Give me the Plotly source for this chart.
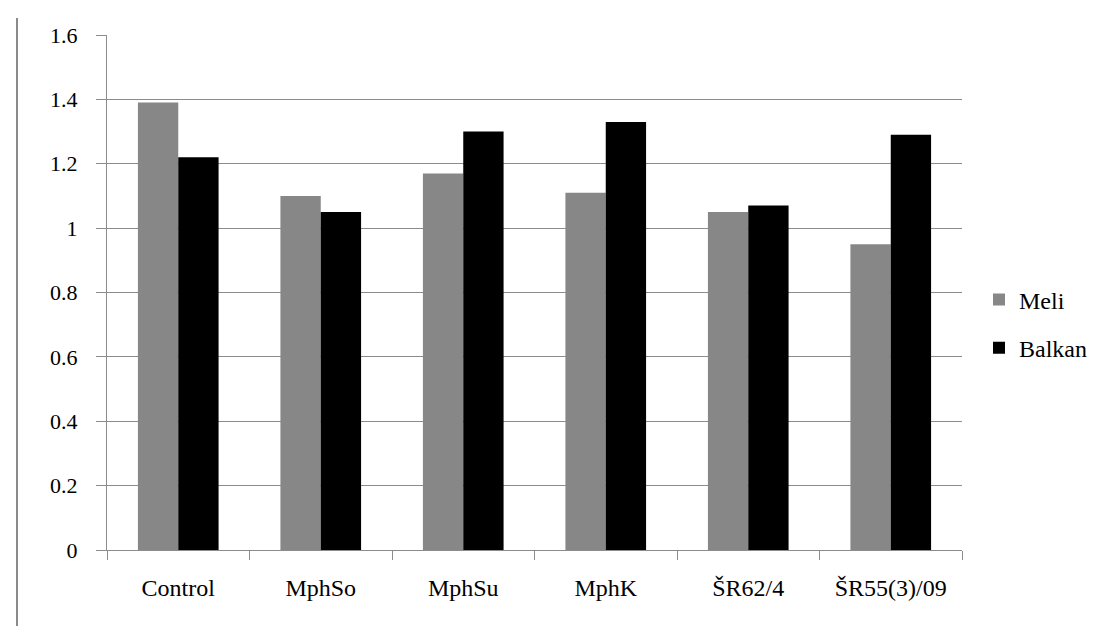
import plotly.graph_objects as go

categories = ["Control", "MphSo", "MphSu", "MphK", "ŠR62/4", "ŠR55(3)/09"]
meli = [1.39, 1.10, 1.17, 1.11, 1.05, 0.95]
balkan = [1.22, 1.05, 1.30, 1.33, 1.07, 1.29]
y_ticks = [0, 0.2, 0.4, 0.6, 0.8, 1.0, 1.2, 1.4, 1.6]
y_tick_text = ["0", "0.2", "0.4", "0.6", "0.8", "1", "1.2", "1.4", "1.6"]

W, H = 1111, 626
L, R, T, B = 99, 157, 27, 84
pw, ph = W - L - R, H - T - B

def px(x):
    return (x - L) / pw

def py(y):
    return (H - B - y) / ph

fig = go.Figure()
fig.add_trace(go.Bar(x=categories, y=meli, name="Meli", marker_color="#878787",
                     marker_line_width=0, legendgroup="a"))
fig.add_trace(go.Bar(x=categories, y=balkan, name="Balkan", marker_color="#000000",
                     marker_line_width=0, legendgroup="b"))

font = "Liberation Serif, Times New Roman, serif"
fig.update_layout(
    width=W, height=H,
    margin=dict(l=L, r=R, t=T, b=B, autoexpand=False),
    paper_bgcolor="white", plot_bgcolor="white",
    barmode="group", bargap=0.434, bargroupgap=0,
    font=dict(family=font, size=22, color="black"),
    showlegend=True,
    legend=dict(x=px(971), xanchor="left", y=py(316), yanchor="middle",
                font=dict(size=24), tracegroupgap=14, bgcolor="rgba(0,0,0,0)"),
    xaxis=dict(showgrid=False, showline=True, linecolor="#8c8c8c", linewidth=1,
               ticks="outside", tickson="boundaries", ticklen=9, tickcolor="#8c8c8c",
               tickfont=dict(size=24), ticklabelstandoff=16),
    yaxis=dict(range=[0, 1.6], tickvals=y_ticks, ticktext=y_tick_text,
               showgrid=True, gridcolor="#8c8c8c", gridwidth=1, zeroline=False,
               showline=True, linecolor="#8c8c8c", linewidth=1,
               ticks="outside", ticklen=10, tickcolor="#8c8c8c",
               tickfont=dict(size=22), ticklabelstandoff=14),
    shapes=[
        dict(type="line", xref="paper", yref="paper", x0=px(9), x1=px(9), y0=py(10), y1=py(626),
             line=dict(color="#8a8a8a", width=2)),
        dict(type="line", xref="paper", yref="paper", x0=px(9), x1=px(1111), y0=py(624.5), y1=py(624.5),
             line=dict(color="#d0d0d0", width=1)),
    ],
)

fig.write_html("out.html")
